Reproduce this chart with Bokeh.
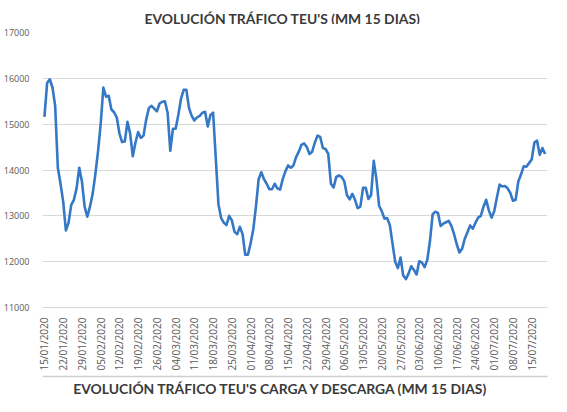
import math
import pandas as pd
from bokeh.plotting import figure
from bokeh.layouts import column
from bokeh.models import Range1d, FixedTicker
from bokeh.core.properties import value
from bokeh.embed import file_html
from bokeh.resources import INLINE

title_main = "EVOLUCIÓN TRÁFICO TEU'S (MM 15 DIAS)"
title_next = "EVOLUCIÓN TRÁFICO TEU'S CARGA Y DESCARGA (MM 15 DIAS)"
start_date = "2020-01-15"

teus = [
    15160, 15900, 15980, 15800, 15400, 14050, 13700, 13310, 12680, 12850,
    13240, 13350, 13600, 14050, 13750, 13200, 12980, 13200, 13480, 13900,
    14400, 15000, 15800, 15600, 15620, 15320, 15260, 15150, 14800, 14610,
    14620, 15050, 14800, 14300, 14600, 14830, 14700, 14750, 15100, 15350,
    15400, 15340, 15280, 15450, 15490, 15500, 15250, 14420, 14900, 14900,
    15200, 15550, 15750, 15750, 15350, 15180, 15080, 15150, 15180, 15250,
    15270, 14950, 15200, 15250, 14250, 13250, 12950, 12850, 12800, 13000,
    12900, 12650, 12600, 12760, 12600, 12150, 12150, 12400, 12700, 13200,
    13800, 13950, 13800, 13700, 13580, 13580, 13700, 13600, 13570, 13800,
    13970, 14100, 14050, 14100, 14280, 14400, 14550, 14580, 14500, 14350,
    14400, 14600, 14750, 14720, 14480, 14460, 14350, 13700, 13620, 13850,
    13880, 13850, 13750, 13450, 13360, 13480, 13350, 13170, 13200, 13610,
    13610, 13370, 13450, 14200, 13800, 13220, 13100, 12940, 12950, 12800,
    12400, 12000, 11860, 12090, 11700, 11620, 11740, 11900, 11820, 11720,
    12010, 11980, 11880, 12040, 12450, 13030, 13090, 13060, 12780, 12830,
    12860, 12890, 12780, 12600, 12380, 12200, 12280, 12500, 12640, 12790,
    12720, 12850, 12960, 13000, 13200, 13350, 13120, 12960, 13100, 13400,
    13680, 13640, 13650, 13600, 13500, 13330, 13350, 13750, 13900, 14080,
    14070, 14150, 14230, 14600, 14640, 14330, 14480, 14350,
]
y_ticks = [11000, 12000, 13000, 14000, 15000, 16000, 17000]

dates = pd.date_range(start_date, periods=len(teus), freq="D")
xs = list(range(len(teus)))
tick_idx = list(range(0, len(teus), 7))
tick_labels = {i: dates[i].strftime("%d/%m/%Y") for i in tick_idx}

FONT = "Open Sans"
TITLE_FONT = "Lato"
TXT = "#595959"
TITLE_C = "#3a3a3a"
GRID = "#d9d9d9"
W = 551


def text_strip(h):
    f = figure(width=W, height=h, output_backend="svg", toolbar_location=None,
               title=None, x_axis_type=None, y_axis_type=None,
               x_range=Range1d(0, W), y_range=Range1d(0, h),
               min_border=0, min_border_left=0, min_border_right=0,
               min_border_top=0, min_border_bottom=0)
    f.grid.visible = False
    f.outline_line_color = None
    return f


# title strip
p0 = text_strip(24)
p0.text(x=[262], y=[6], text=[title_main], text_align="center",
        text_baseline="alphabetic", text_font=value(TITLE_FONT),
        text_font_style="bold", text_font_size="13.9px", text_color=TITLE_C)

# chart
p = figure(width=W, height=349, output_backend="svg", toolbar_location=None,
           x_range=Range1d(-0.73, 187.9), y_range=Range1d(11000, 17000),
           min_border_left=33, min_border_right=4, min_border_top=8,
           min_border_bottom=63)
p.outline_line_color = None

p.line(xs, teus, line_color="#3478c6", line_width=2.6, line_join="round")

p.xgrid.grid_line_color = None
p.ygrid.grid_line_color = GRID
p.ygrid.grid_line_width = 1
p.yaxis.ticker = FixedTicker(ticks=y_ticks)
p.yaxis.axis_line_color = None
p.yaxis.major_tick_line_color = None
p.yaxis.minor_tick_line_color = None
p.yaxis.major_label_text_font = FONT
p.yaxis.major_label_text_font_size = "9px"
p.yaxis.major_label_text_color = TXT
p.yaxis.major_label_standoff = 7

p.xaxis.ticker = FixedTicker(ticks=tick_idx)
p.xaxis.major_label_overrides = tick_labels
p.xaxis.major_label_orientation = math.pi / 2
p.xaxis.axis_line_color = GRID
p.xaxis.major_tick_line_color = None
p.xaxis.minor_tick_line_color = None
p.xaxis.major_label_text_font = FONT
p.xaxis.major_label_text_font_size = "10px"
p.xaxis.major_label_text_color = TXT
p.xaxis.major_label_standoff = 4

# bottom strip: chart separator and next chart's title
p2 = text_strip(23)
p2.segment(x0=[-60], y0=[20], x1=[W + 60], y1=[20], line_color="#cfcfcf",
           line_width=1.5)
p2.text(x=[260.5], y=[8], text=[title_next], text_align="center",
        text_baseline="alphabetic", text_font=value(TITLE_FONT),
        text_font_style="bold", text_font_size="13.9px", text_color=TITLE_C)

layout = column(p0, p, p2, spacing=0)
open("out.html", "w").write(file_html(layout, INLINE))
